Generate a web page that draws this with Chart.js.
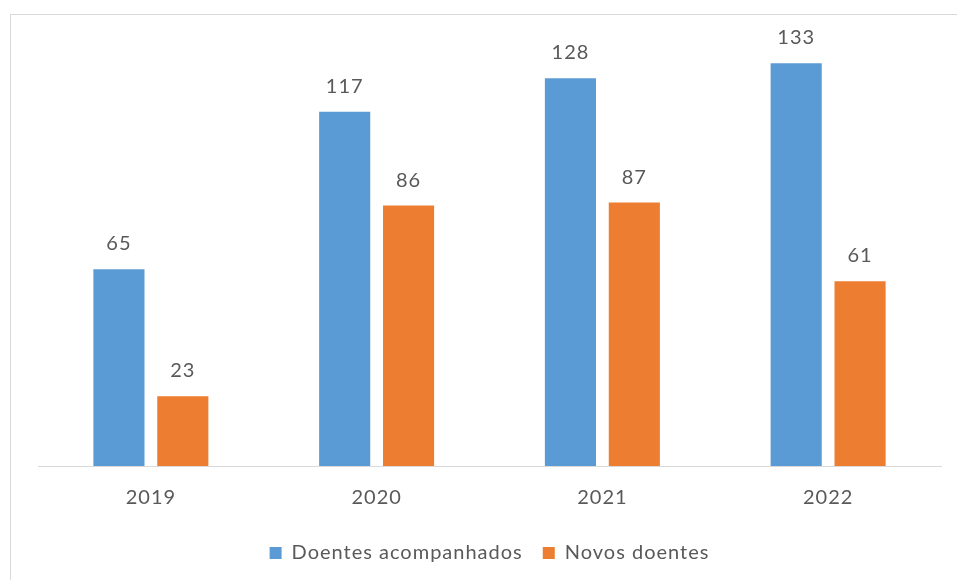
<!DOCTYPE html>
<html>
<head>
<meta charset="utf-8">
<script src="https://cdn.jsdelivr.net/npm/chart.js@4"></script>
<style>
  body { margin: 0; background: #fff; }
  #wrap { position: relative; width: 957px; height: 580px; }
  #frame { position: absolute; left: 10px; top: 14px; width: 960px; height: 580px;
           border-left: 1px solid #d9d9d9; border-top: 1px solid #d9d9d9; }
  canvas { position: absolute; left: 0; top: 0; }
</style>
</head>
<body>
<div id="wrap">
  <div id="frame"></div>
  <canvas id="chart" width="957" height="580"></canvas>
</div>
<script>
const years = ["2019", "2020", "2021", "2022"];
const acompanhados = [65, 117, 128, 133];
const novos = [23, 86, 87, 61];

const textColor = "#595959";
const fontFamily = "Lato, 'Open Sans', sans-serif";

// the original text is a bit loosely spaced
const spacing = {
  id: "spacing",
  beforeUpdate(chart) { chart.ctx.letterSpacing = "1px"; },
  beforeDraw(chart) { chart.ctx.letterSpacing = "1px"; }
};

// value labels above each bar
const barLabels = {
  id: "barLabels",
  afterDatasetsDraw(chart) {
    const ctx = chart.ctx;
    ctx.save();
    ctx.fillStyle = textColor;
    ctx.font = "20px " + fontFamily;
    ctx.textAlign = "center";
    ctx.textBaseline = "alphabetic";
    chart.data.datasets.forEach((ds, i) => {
      chart.getDatasetMeta(i).data.forEach((bar, j) => {
        ctx.fillText(ds.data[j], bar.x, bar.y - 19);
      });
    });
    ctx.restore();
  }
};

new Chart(document.getElementById("chart"), {
  type: "bar",
  data: {
    labels: years,
    datasets: [
      { label: "Doentes acompanhados", data: acompanhados, backgroundColor: "#5b9bd5",
        categoryPercentage: 0.566, barPercentage: 0.8 },
      { label: "Novos doentes", data: novos, backgroundColor: "#ed7d31",
        categoryPercentage: 0.566, barPercentage: 0.8 }
    ]
  },
  options: {
    responsive: false,
    animation: false,
    layout: { padding: { left: 38, right: 16, top: 42, bottom: 7 } },
    scales: {
      x: {
        grid: { display: false, drawTicks: false },
        border: { color: "#d9d9d9", width: 1 },
        ticks: { color: textColor, font: { family: fontFamily, size: 20 }, padding: 20 },
        afterFit(scale) { scale.height = 57; }
      },
      y: { display: false, min: 0, max: 140 }
    },
    plugins: {
      legend: {
        position: "bottom",
        labels: { color: textColor, font: { family: fontFamily, size: 20 },
                  boxWidth: 12, boxHeight: 12, padding: 20 }
      },
      tooltip: { enabled: false }
    }
  },
  plugins: [spacing, barLabels]
});
</script>
</body>
</html>
